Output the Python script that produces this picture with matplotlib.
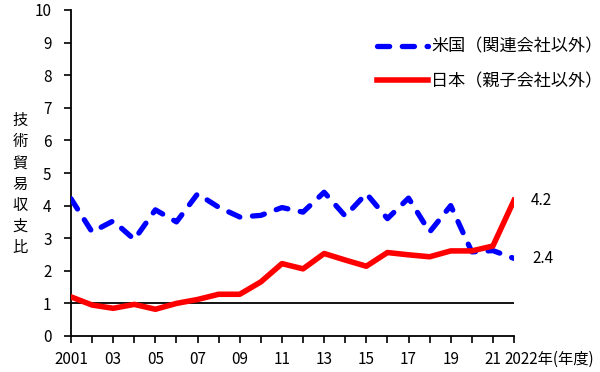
import matplotlib
matplotlib.use("Agg")
import matplotlib.pyplot as plt

plt.rcParams['font.family'] = ['Noto Sans CJK JP', 'DejaVu Sans']

years = list(range(2001, 2023))
us_values = [4.21, 3.19, 3.53, 2.96, 3.87, 3.50, 4.36, 3.95, 3.65, 3.70, 3.94, 3.80,
             4.41, 3.68, 4.37, 3.60, 4.23, 3.19, 4.00, 2.58, 2.62, 2.38]
jp_values = [1.20, 0.95, 0.85, 0.97, 0.82, 1.00, 1.12, 1.28, 1.28, 1.66, 2.22, 2.06,
             2.53, 2.33, 2.14, 2.56, 2.49, 2.43, 2.61, 2.61, 2.76, 4.16]
us_label = '米国（関連会社以外）'
jp_label = '日本（親子会社以外）'
ylabel = '技術貿易収支比'
xtick_years = [2001, 2003, 2005, 2007, 2009, 2011, 2013, 2015, 2017, 2019, 2021]
xtick_labels = ['2001', '03', '05', '07', '09', '11', '13', '15', '17', '19', '21']
last_label = '2022年(年度)'
end_labels = ['4.2', '2.4']

fig = plt.figure(figsize=(6, 3.72), dpi=100)
ax = fig.add_axes([71/600, 1-336/372, (514-71)/600, (336-10)/372])

l_us, = ax.plot(years, us_values, color='#0000FF', lw=3.8, dashes=(2.3, 2.4),
                dash_capstyle='round', solid_joinstyle='miter', label=us_label, zorder=3)
l_jp, = ax.plot(years, jp_values, color='#FF0000', lw=4.0, label=jp_label, zorder=4)
ax.plot([years[0], years[-1]], [1, 1], color='black', lw=1.3, zorder=2)

ax.set_xlim(2001, 2022)
ax.set_ylim(0, 10)
ax.set_yticks(range(0, 11))
ax.set_xticks(years, minor=False)
lbls = []
for y in years:
    if y in xtick_years:
        lbls.append(xtick_labels[xtick_years.index(y)])
    else:
        lbls.append('')
ax.set_xticklabels(lbls)
ax.tick_params(axis='both', direction='out', length=5, width=1.2, labelsize=11, colors='black')
ax.tick_params(axis='x', pad=6)
ax.tick_params(axis='y', pad=9)
for s in ['top', 'right']:
    ax.spines[s].set_visible(False)
for s in ['left', 'bottom']:
    ax.spines[s].set_linewidth(1.3)

ax.annotate(last_label, xy=(2022, 0), xycoords='data', xytext=(-7, -11),
            textcoords='offset points', ha='left', va='top', fontsize=11,
            annotation_clip=False)

ax.annotate(end_labels[0], xy=(2022, jp_values[-1]), xytext=(12, 0),
            textcoords='offset points', ha='left', va='center', fontsize=11, annotation_clip=False)
ax.annotate(end_labels[1], xy=(2022, us_values[-1]), xytext=(13, 0),
            textcoords='offset points', ha='left', va='center', fontsize=11, annotation_clip=False)

fig.text(20/600, 1-184/372, '\n'.join(ylabel), ha='center', va='center', fontsize=11,
         linespacing=1.32)

fig.legend(handles=[l_us, l_jp], labels=[us_label, jp_label],
           loc='upper left', bbox_to_anchor=(370/600, 1-31/372),
           frameon=False, fontsize=12.3, handlelength=3.0, handletextpad=0.2,
           labelspacing=0.95, borderaxespad=0)

fig.savefig('out.png', dpi=100)
